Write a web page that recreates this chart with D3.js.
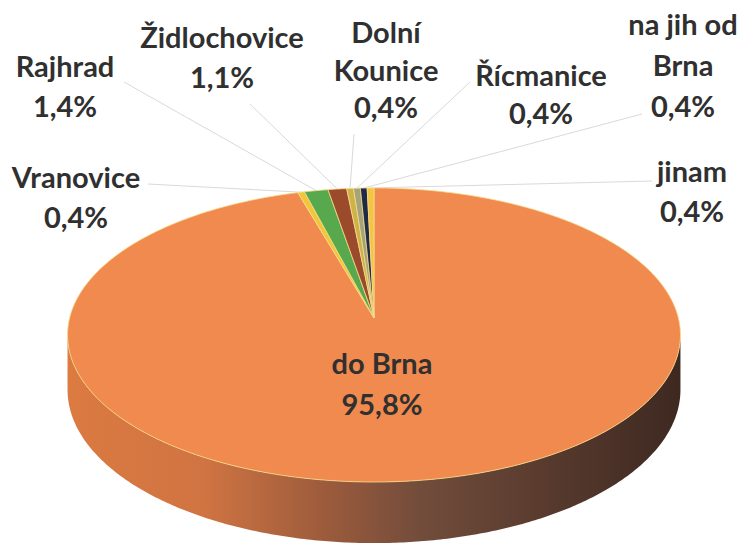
<!DOCTYPE html>
<html>
<head>
<meta charset="utf-8">
<script src="https://cdn.jsdelivr.net/npm/d3@7"></script>
<style>
  body { margin: 0; background: #fff; }
  svg { display: block; }
  .lbl { font-family: Lato, "Open Sans", sans-serif; font-weight: 700; font-size: 29px; fill: #303030; }
</style>
</head>
<body>
<div id="chart"></div>
<script>
// data
var categories = ["do Brna", "Vranovice", "Rajhrad", "Židlochovice", "Dolní Kounice", "Řícmanice", "na jih od Brna", "jinam"];
var values = [95.8, 0.4, 1.4, 1.1, 0.4, 0.4, 0.4, 0.4];
var labelLines = [["do Brna"], ["Vranovice"], ["Rajhrad"], ["Židlochovice"], ["Dolní", "Kounice"], ["Řícmanice"], ["na jih od", "Brna"], ["jinam"]];
var colors = ["#f08a4e", "#f3c53a", "#58a94e", "#9b4a2b", "#cdb247", "#a3a37c", "#1f2a47", "#f4c445"];

// label placement (center x, first baseline, line step, leader start)
var labelPos = [
  {x: 382, y: 374, step: 41},
  {x: 76, y: 188, step: 40, lx: 148, ly: 184},
  {x: 65, y: 77, step: 40, lx: 124, ly: 82},
  {x: 222, y: 48, step: 40, lx: 250, ly: 104},
  {x: 386, y: 43, step: 37.5, lx: 354, ly: 134},
  {x: 541, y: 86, step: 38, lx: 470, ly: 82},
  {x: 683, y: 35, step: 41, lx: 642, ly: 114},
  {x: 692, y: 182, step: 40, lx: 652, ly: 181}
];

var width = 748, height = 546;
var cx = 374, A = 304.4, P = -0.1156, a = 108.3, b = 318, H = 54;

function proj(theta, z) {
  var u = Math.sin(theta), s = -Math.cos(theta), w = 1 + P * s;
  return [cx + A * u / w, (a * s + b + H * (z || 0)) / w];
}

function arcPts(t0, t1, z) {
  var n = Math.max(2, Math.ceil(Math.abs(t1 - t0) / 0.01));
  var pts = [];
  for (var i = 0; i <= n; i++) pts.push(proj(t0 + (t1 - t0) * i / n, z));
  return pts;
}

var svg = d3.select("#chart").append("svg")
    .attr("width", width)
    .attr("height", height);

var defs = svg.append("defs");
var grad = defs.append("linearGradient")
    .attr("id", "side")
    .attr("gradientUnits", "userSpaceOnUse")
    .attr("x1", cx - A).attr("x2", cx + A).attr("y1", 0).attr("y2", 0);
[[0, "#db7a41"], [0.22, "#d07442"], [0.42, "#9c5b3c"], [0.58, "#714c3b"], [0.8, "#56392d"], [1, "#3e2921"]]
  .forEach(function(s) { grad.append("stop").attr("offset", s[0]).attr("stop-color", s[1]); });

var pie = d3.pie().sort(null).value(function(d) { return d; });
var arcs = pie(values);

var line = d3.line();

// side wall (front, visible part only)
var tA = Math.acos(P), tB = 2 * Math.PI - Math.acos(P);
var side = arcPts(tA, tB, 0).concat(arcPts(tB, tA, 1));
svg.append("path")
    .attr("d", line(side) + "Z")
    .attr("fill", "url(#side)");

// leader lines
var leaders = svg.append("g");
arcs.forEach(function(d, i) {
  var p = labelPos[i];
  if (p.lx === undefined) return;
  var end = proj((d.startAngle + d.endAngle) / 2, 0);
  leaders.append("line")
      .attr("x1", p.lx).attr("y1", p.ly)
      .attr("x2", end[0]).attr("y2", end[1])
      .attr("stroke", "#d9d9d9")
      .attr("stroke-width", 1);
});

// top faces
svg.append("g").selectAll("path")
  .data(arcs)
  .join("path")
    .attr("d", function(d) {
      var pts = [[cx, b]].concat(arcPts(d.startAngle, d.endAngle, 0));
      return line(pts) + "Z";
    })
    .attr("fill", function(d, i) { return colors[i]; })
    .attr("stroke", "#f6dc8c")
    .attr("stroke-width", 0.8)
    .attr("stroke-linejoin", "round");

// labels
var fmt = function(v) { return d3.format(".1f")(v).replace(".", ",") + "%"; };
var lg = svg.append("g");
categories.forEach(function(c, i) {
  var p = labelPos[i];
  var lines = labelLines[i].concat([fmt(values[i])]);
  var t = lg.append("text")
      .attr("class", "lbl")
      .attr("text-anchor", "middle");
  lines.forEach(function(s, k) {
    t.append("tspan").attr("x", p.x).attr("y", p.y + k * p.step).text(s);
  });
});
</script>
</body>
</html>
